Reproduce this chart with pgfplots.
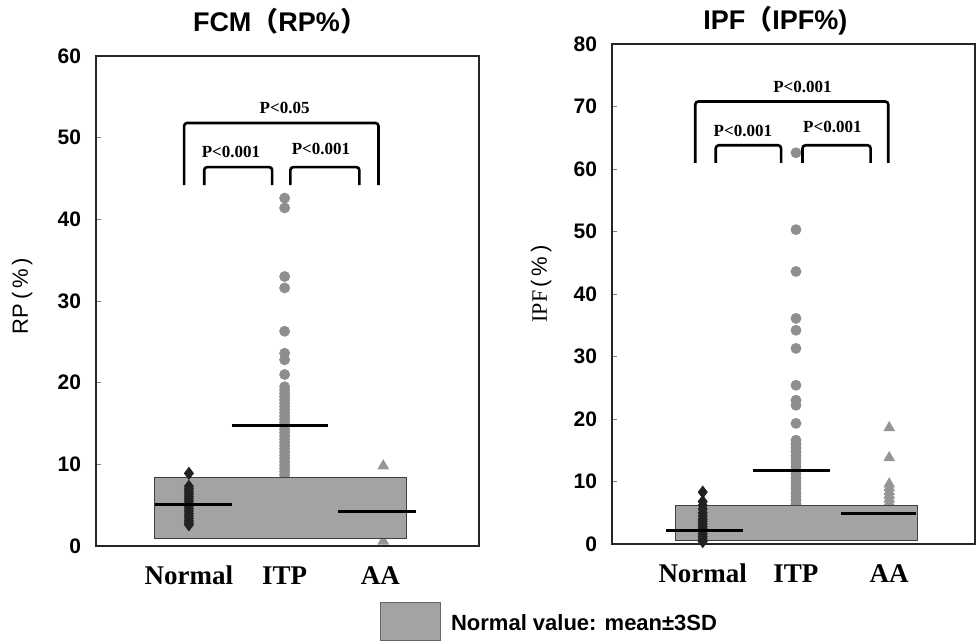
\documentclass[border=0pt]{standalone}
\usepackage{fontspec}
\setmainfont{Liberation Serif}
\newfontfamily\arial{Liberation Sans}
\newfontfamily\cjk{Noto Sans CJK SC}
\usepackage{pgfplots}
\pgfplotsset{compat=1.18}

\definecolor{boxgray}{HTML}{A3A3A3}
\definecolor{dotgray}{HTML}{8E8E8E}
\definecolor{trigray}{HTML}{959595}
\definecolor{dia}{HTML}{222222}

\pgfplotsset{panel/.style={
  scale only axis, anchor=south west,
  xtick={1,2,3}, xticklabels={Normal,ITP,AA},
  xtick style={draw=none},
  xticklabel style={font=\fontsize{13.5}{14}\selectfont\bfseries,
    text height=9.5pt, text depth=0pt, yshift=-6pt},
  ytick pos=left, tick align=inside, major tick length=2.5pt,
  ytick style={line width=0.4pt},
  yticklabel style={font=\fontsize{10.5}{11}\arial\bfseries, xshift=-4pt},
  /pgf/number format/assume math mode=true,
  axis line style={line width=0.6pt, black!85},
  ylabel style={anchor=center, font=\fontsize{11}{12}\selectfont},
  clip=false, clip marker paths=true,
}}

\begin{document}
\begin{tikzpicture}
\useasboundingbox (0,0) rectangle (488.5pt,-321pt);

% ---- left panel: FCM (RP%)
\begin{axis}[panel,
  at={(48pt,-273pt)}, width=191.5pt, height=245pt,
  xmin=0.03, xmax=4.03, ymin=0, ymax=60, ytick={0,10,...,60},
  ylabel={\arial RP\,(\,\%\,)},
  ylabel style={at={(axis description cs:-0.193,0.51)}},
]
% ITP
\addplot[only marks, mark=*, mark size=2.5pt, color=dotgray] coordinates {
  (2,42.6) (2,41.4) (2,33.0) (2,31.6) (2,26.3) (2,23.6) (2,22.8) (2,21.0)
  (2,19.5) (2,19.1) (2,18.7) (2,18.3) (2,17.9) (2,17.5) (2,17.1) (2,16.7)
  (2,16.3) (2,15.9) (2,15.5) (2,15.1) (2,14.7) (2,14.3) (2,13.9) (2,13.5)
  (2,13.1) (2,12.7) (2,12.3) (2,11.9) (2,11.5) (2,11.1) (2,10.7) (2,10.3)
  (2,9.9) (2,9.5) (2,9.1) (2,8.7) (2,8.0) (2,7.0) (2,6.0) (2,5.0)
};
% AA
\addplot[only marks, mark=triangle*, mark size=3pt, color=trigray] coordinates {
  (3.03,9.8) (3.03,0.6) (3.03,3.0) (3.03,4.5)
};
% normal range box
\addplot[fill=boxgray, draw=black!75, line width=0.6pt] coordinates {
  (0.64,0.9) (3.27,0.9) (3.27,8.4) (0.64,8.4)
} -- cycle;
% Normal
\addplot[only marks, mark=diamond*, mark size=3pt, color=dia] coordinates {
  (1,8.9) (1,7.3) (1,7.0) (1,6.7) (1,6.4) (1,6.1) (1,5.8) (1,5.5) (1,5.2)
  (1,4.9) (1,4.6) (1,4.3) (1,4.0) (1,3.7) (1,3.4) (1,3.1) (1,2.8) (1,2.6)
};
% means
\addplot[black, line width=1.5pt] coordinates {(0.65,5.1) (1.45,5.1)};
\addplot[black, line width=1.5pt] coordinates {(1.45,14.7) (2.45,14.7)};
\addplot[black, line width=1.5pt] coordinates {(2.56,4.2) (3.37,4.2)};
% brackets
\draw[line width=1.3pt, rounded corners=1.5pt] (axis cs:0.95,44.2) |- (axis cs:2.98,51.8) -- (axis cs:2.98,44.2);
\draw[line width=1.3pt, rounded corners=1.5pt] (axis cs:1.16,44.2) |- (axis cs:1.87,46.4) -- (axis cs:1.87,44.2);
\draw[line width=1.3pt, rounded corners=1.5pt] (axis cs:2.06,44.2) |- (axis cs:2.78,46.4) -- (axis cs:2.78,44.2);
\node[font=\fontsize{8.5}{9}\selectfont\bfseries] at (axis cs:2.0,53.6) {P<0.05};
\node[font=\fontsize{8.5}{9}\selectfont\bfseries] at (axis cs:1.44,48.3) {P<0.001};
\node[font=\fontsize{8.5}{9}\selectfont\bfseries] at (axis cs:2.38,48.6) {P<0.001};
\end{axis}

% ---- right panel: IPF (IPF%)
\begin{axis}[panel,
  at={(306pt,-272pt)}, width=181.5pt, height=250pt,
  xmin=0.027, xmax=3.92, ymin=0, ymax=80, ytick={0,10,...,80},
  ylabel={IPF\,{\arial (\,\%\,)}},
  ylabel style={at={(axis description cs:-0.195,0.52)}},
]
% ITP
\addplot[only marks, mark=*, mark size=2.5pt, color=dotgray] coordinates {
  (2,62.6) (2,50.3) (2,43.6) (2,36.1) (2,34.2) (2,31.3) (2,25.4) (2,23.0)
  (2,22.2) (2,19.3) (2,16.6) (2,16.0) (2,15.4) (2,14.8) (2,14.2) (2,13.6)
  (2,13.0) (2,12.4) (2,11.8) (2,11.2) (2,10.6) (2,10.0) (2,9.4) (2,8.8)
  (2,8.2) (2,7.6) (2,7.0) (2,6.4) (2,5.0) (2,4.0)
};
% AA
\addplot[only marks, mark=triangle*, mark size=3pt, color=trigray] coordinates {
  (3,18.6) (3,13.8) (3,9.6) (3,9.0) (3,8.4) (3,7.8) (3,7.2) (3,6.6) (3,5.0)
};
% normal range box
\addplot[fill=boxgray, draw=black!75, line width=0.6pt] coordinates {
  (0.71,0.6) (3.30,0.6) (3.30,6.2) (0.71,6.2)
} -- cycle;
% Normal
\addplot[only marks, mark=diamond*, mark size=3pt, color=dia] coordinates {
  (1,8.3) (1,6.8) (1,6.2) (1,5.6) (1,5.0) (1,4.5) (1,4.0) (1,3.6) (1,3.2)
  (1,2.8) (1,2.4) (1,2.0) (1,1.6) (1,1.2) (1,0.8) (1,0.4)
};
% means
\addplot[black, line width=1.5pt] coordinates {(0.61,2.1) (1.43,2.1)};
\addplot[black, line width=1.5pt] coordinates {(1.54,11.8) (2.36,11.8)};
\addplot[black, line width=1.5pt] coordinates {(2.48,4.9) (3.29,4.9)};
% brackets
\draw[line width=1.3pt, rounded corners=1.5pt] (axis cs:0.92,61.0) |- (axis cs:2.99,70.8) -- (axis cs:2.99,61.0);
\draw[line width=1.3pt, rounded corners=1.5pt] (axis cs:1.14,61.0) |- (axis cs:1.84,63.8) -- (axis cs:1.84,61.0);
\draw[line width=1.3pt, rounded corners=1.5pt] (axis cs:2.07,61.0) |- (axis cs:2.80,63.8) -- (axis cs:2.80,61.0);
\node[font=\fontsize{8.5}{9}\selectfont\bfseries] at (axis cs:2.07,73.1) {P<0.001};
\node[font=\fontsize{8.5}{9}\selectfont\bfseries] at (axis cs:1.43,66.1) {P<0.001};
\node[font=\fontsize{8.5}{9}\selectfont\bfseries] at (axis cs:2.39,66.7) {P<0.001};
\end{axis}

% titles
\node[font=\fontsize{13.5}{15}\arial\bfseries] at (140pt,-10.5pt) {FCM{\cjk （}RP\%{\cjk ）}};
\node[anchor=west, font=\fontsize{13.5}{15}\arial\bfseries, inner sep=0pt] at (351.5pt,-10.5pt) {IPF{\cjk （}IPF\%)};

% legend
\draw[fill=boxgray, draw=black!60, line width=0.4pt] (190pt,-301pt) rectangle (220pt,-320pt);
\node[anchor=west, font=\fontsize{11}{12}\arial\bfseries] at (222pt,-311.5pt) {Normal value: mean±3SD};
\end{tikzpicture}
\end{document}
